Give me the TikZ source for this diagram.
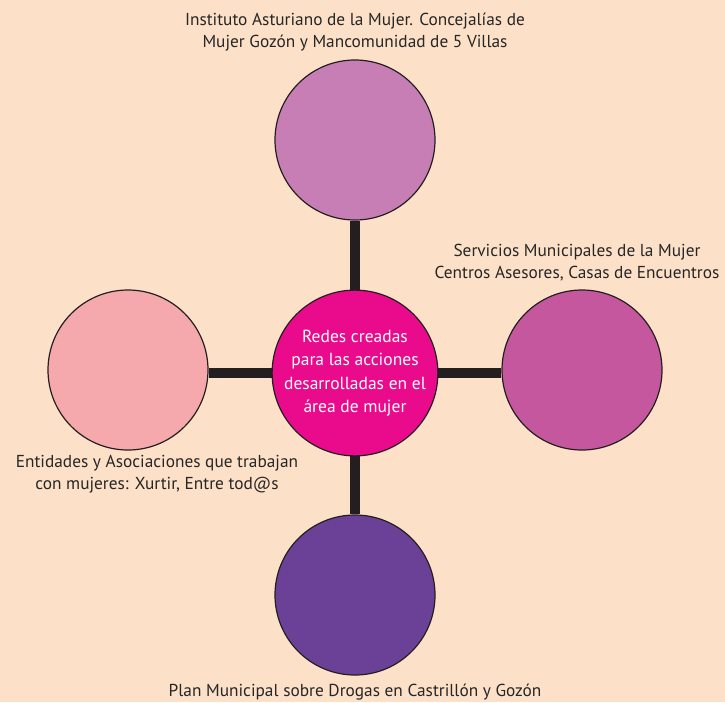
\documentclass[tikz,border=0pt]{standalone}
\usepackage{fontspec}
\setmainfont{PT Sans}
\usetikzlibrary{positioning,calc}
\definecolor{PeachBg}{RGB}{253,224,200}
\definecolor{HubPink}{RGB}{234,10,140}
\definecolor{TopMauve}{RGB}{199,126,181}
\definecolor{RightMagenta}{RGB}{197,87,158}
\definecolor{LeftRose}{RGB}{245,169,172}
\definecolor{BottomPurple}{RGB}{107,65,151}
\definecolor{BarDark}{RGB}{35,31,32}
\tikzset{
  disc/.style={circle,draw=BarDark,line width=1.2pt,minimum size=160pt,inner sep=0pt},
  bar/.style={draw=BarDark,line width=10pt},
  caption/.style={align=center,text=black!85,font=\fontsize{17.3}{22}\selectfont,inner sep=0pt},
}

\begin{document}
\begin{tikzpicture}[x=1pt,y=-1pt]
\fill[PeachBg] (0,0) rectangle (725,702);
\useasboundingbox (0,0) rectangle (725,702);
\coordinate (c0) at (355,373);
\coordinate (c1) at (355,140);
\coordinate (c2) at (582,370);
\coordinate (c3) at (128,370);
\coordinate (c4) at (355,595);
\node[disc,fill=TopMauve] (top) at (c1) {};
\node[disc,fill=RightMagenta] (right) at (c2) {};
\node[disc,fill=LeftRose] (left) at (c3) {};
\node[disc,fill=BottomPurple] (bottom) at (c4) {};
\draw[bar] (c0) -- (top.south);
\draw[bar] (c0) -- (c0 -| right.west);
\draw[bar] (c0) -- (c0 -| left.east);
\draw[bar] (c0) -- (bottom.north);
\node[disc,fill=HubPink,text=white,align=center,
  font=\fontsize{17.5}{23.5}\selectfont] (hub) at (c0)
  {Redes creadas\\para las acciones\\desarrolladas en el\\área de mujer};
\node[caption] (toplab) at (355,32)
  {Instituto Asturiano de la Mujer. Concejalías de\\Mujer Gozón y Mancomunidad de 5 Villas};
\node[caption] (rightlab) at (577,263)
  {Servicios Municipales de la Mujer\\Centros Asesores, Casas de Encuentros};
\node[caption] (leftlab) at (157,474)
  {Entidades y Asociaciones que trabajan\\con mujeres: Xurtir, Entre tod@s};
\node[caption] (bottomlab) at (355,692)
  {Plan Municipal sobre Drogas en Castrillón y Gozón};
\end{tikzpicture}
\end{document}
